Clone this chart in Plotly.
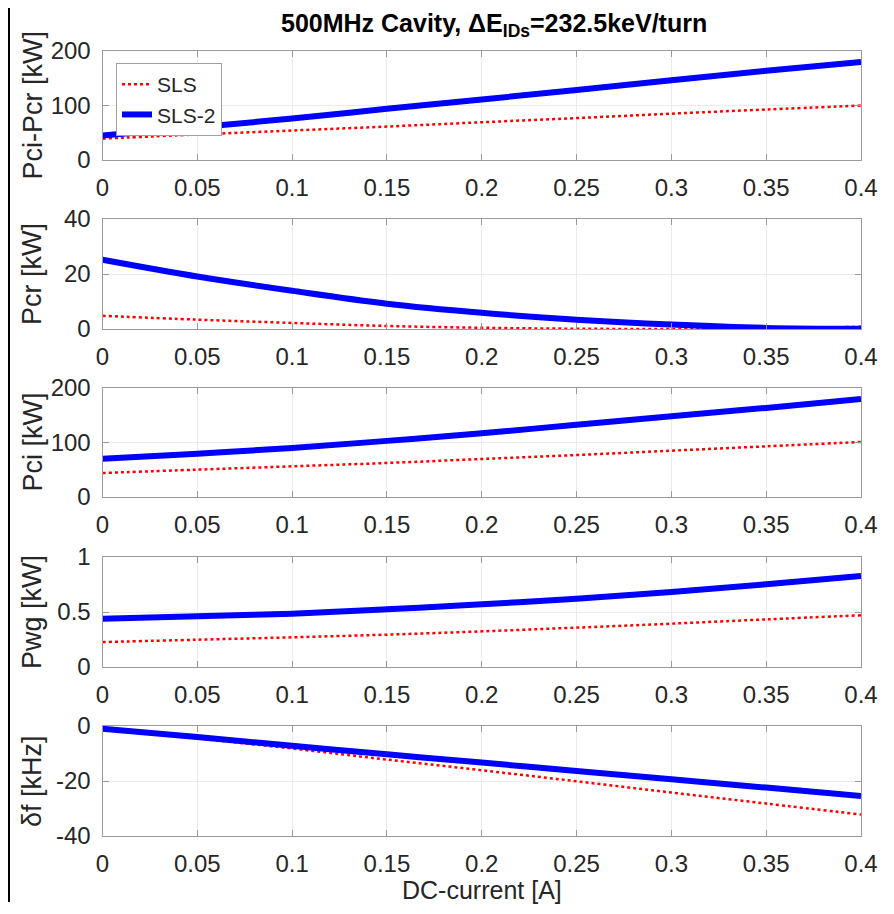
import plotly.graph_objects as go
from plotly.subplots import make_subplots

current = [0, 0.05, 0.1, 0.15, 0.2, 0.25, 0.3, 0.35, 0.4]

pcipcr_sls = [39.2, 46.8, 54.1, 61.4, 69.3, 76.9, 85.0, 92.7, 100.0]
pcipcr_sls2 = [44.8, 60.0, 76.0, 94.0, 111.0, 128.6, 146.4, 163.6, 179.9]

pcr_sls = [4.8, 3.4, 2.2, 1.1, 0.45, 0.1, 0.02, 0.25, 0.8]
pcr_sls2 = [25.2, 19.1, 13.9, 9.2, 5.9, 3.4, 1.6, 0.4, 0.1]

pci_sls = [44.0, 50.2, 56.3, 62.4, 69.7, 77.0, 85.0, 93.0, 101.0]
pci_sls2 = [70.0, 79.5, 90.0, 103.0, 117.0, 132.5, 148.0, 163.5, 180.0]

pwg_sls = [0.227, 0.248, 0.270, 0.294, 0.324, 0.358, 0.394, 0.433, 0.470]
pwg_sls2 = [0.439, 0.461, 0.485, 0.524, 0.570, 0.621, 0.682, 0.752, 0.827]

df_sls = [-1.0, -4.5, -8.2, -12.2, -16.1, -20.1, -24.2, -28.2, -32.2]
df_sls2 = [-1.0, -4.0, -7.2, -10.3, -13.3, -16.4, -19.4, -22.4, -25.5]

series_names = ["SLS", "SLS-2"]
y_titles = ["Pci-Pcr [kW]", "Pcr [kW]", "Pci [kW]", "Pwg [kW]", "δf [kHz]"]
y_ranges = [[0, 200], [0, 40], [0, 200], [0, 1], [-40, 0]]
y_ticks = [[0, 100, 200], [0, 20, 40], [0, 100, 200], [0, 0.5, 1], [-40, -20, 0]]
y_ticktext = [["0", "100", "200"], ["0", "20", "40"], ["0", "100", "200"],
              ["0", "0.5", "1"], ["-40", "-20", "0"]]
x_ticks = [0, 0.05, 0.1, 0.15, 0.2, 0.25, 0.3, 0.35, 0.4]
x_ticktext = ["0", "0.05", "0.1", "0.15", "0.2", "0.25", "0.3", "0.35", "0.4"]
title_text = "<b>500MHz Cavity, ΔE<sub>IDs</sub>=232.5keV/turn</b>"
x_title = "DC-current [A]"

panels = [(pcipcr_sls, pcipcr_sls2), (pcr_sls, pcr_sls2), (pci_sls, pci_sls2),
          (pwg_sls, pwg_sls2), (df_sls, df_sls2)]

# The page body has an 8px margin; lay out in page pixels and convert.
OFF = 8
W, H = 886, 906
FONT = "Liberation Sans, Arial, Helvetica, sans-serif"
TXT = "#262626"
AX = "#9a9a9a"
GRID = "#ebebeb"


def px(xp):
    return (xp - OFF) / W


def py(yp):
    return 1 - (yp - OFF) / H


x0_px, x1_px = 102.5, 861.0
panel_px = [(51, 160), (219, 329), (388, 497), (557, 667), (726, 836)]

fig = make_subplots(rows=5, cols=1)

for i, (s1, s2) in enumerate(panels):
    r = i + 1
    fig.add_trace(go.Scatter(x=current, y=s1, mode="lines", name=series_names[0],
                             line=dict(color="#ff0000", width=2.5, dash="dot", shape="spline"),
                             showlegend=(i == 0)), row=r, col=1)
    fig.add_trace(go.Scatter(x=current, y=s2, mode="lines", name=series_names[1],
                             line=dict(color="#0000ff", width=6, shape="spline"),
                             showlegend=(i == 0)), row=r, col=1)

for i in range(5):
    r = i + 1
    top, bot = panel_px[i]
    fig.update_yaxes(row=r, col=1, domain=[py(bot), py(top)],
                     range=y_ranges[i], tickvals=y_ticks[i], ticktext=y_ticktext[i],
                     showline=True, linecolor=AX, linewidth=1, mirror="ticks",
                     ticks="inside", ticklen=6, tickcolor=AX,
                     showgrid=True, gridcolor=GRID, zeroline=False,
                     tickfont=dict(family=FONT, size=24, color=TXT),
                     ticklabelstandoff=6, automargin=False)
    fig.update_xaxes(row=r, col=1, domain=[px(x0_px), px(x1_px)],
                     range=[0, 0.4], tickvals=x_ticks, ticktext=x_ticktext,
                     showline=True, linecolor=AX, linewidth=1, mirror="ticks",
                     ticks="inside", ticklen=6, tickcolor=AX,
                     showgrid=True, gridcolor=GRID, zeroline=False,
                     tickfont=dict(family=FONT, size=24, color=TXT),
                     ticklabelstandoff=6, automargin=False)
    fig.add_annotation(text=y_titles[i], xref="paper", yref="paper",
                       x=px(32), y=py((top + bot) / 2), textangle=-90,
                       showarrow=False, xanchor="center", yanchor="middle",
                       font=dict(family=FONT, size=27, color=TXT))

fig.add_annotation(text=x_title, xref="paper", yref="paper",
                   x=px((x0_px + x1_px) / 2), y=py(890), showarrow=False,
                   xanchor="center", yanchor="middle",
                   font=dict(family=FONT, size=25, color=TXT))

fig.add_annotation(text=title_text, xref="paper", yref="paper",
                   x=px(494), y=py(25), showarrow=False,
                   xanchor="center", yanchor="middle",
                   font=dict(family=FONT, size=25, color="#000000"))

fig.add_shape(type="line", xref="paper", yref="paper",
              x0=1 / W, x1=1 / W, y0=py(902), y1=1,
              line=dict(color="#000000", width=2))

fig.update_layout(
    width=W, height=H, margin=dict(l=0, r=0, t=0, b=0, autoexpand=False),
    paper_bgcolor="white", plot_bgcolor="white",
    showlegend=True,
    legend=dict(x=px(116), y=py(63), xanchor="left", yanchor="top",
                bgcolor="white", bordercolor="#a0a0a0", borderwidth=1,
                font=dict(family=FONT, size=21, color=TXT),
                itemwidth=30, tracegroupgap=0),
)

fig.write_html("out.html")
